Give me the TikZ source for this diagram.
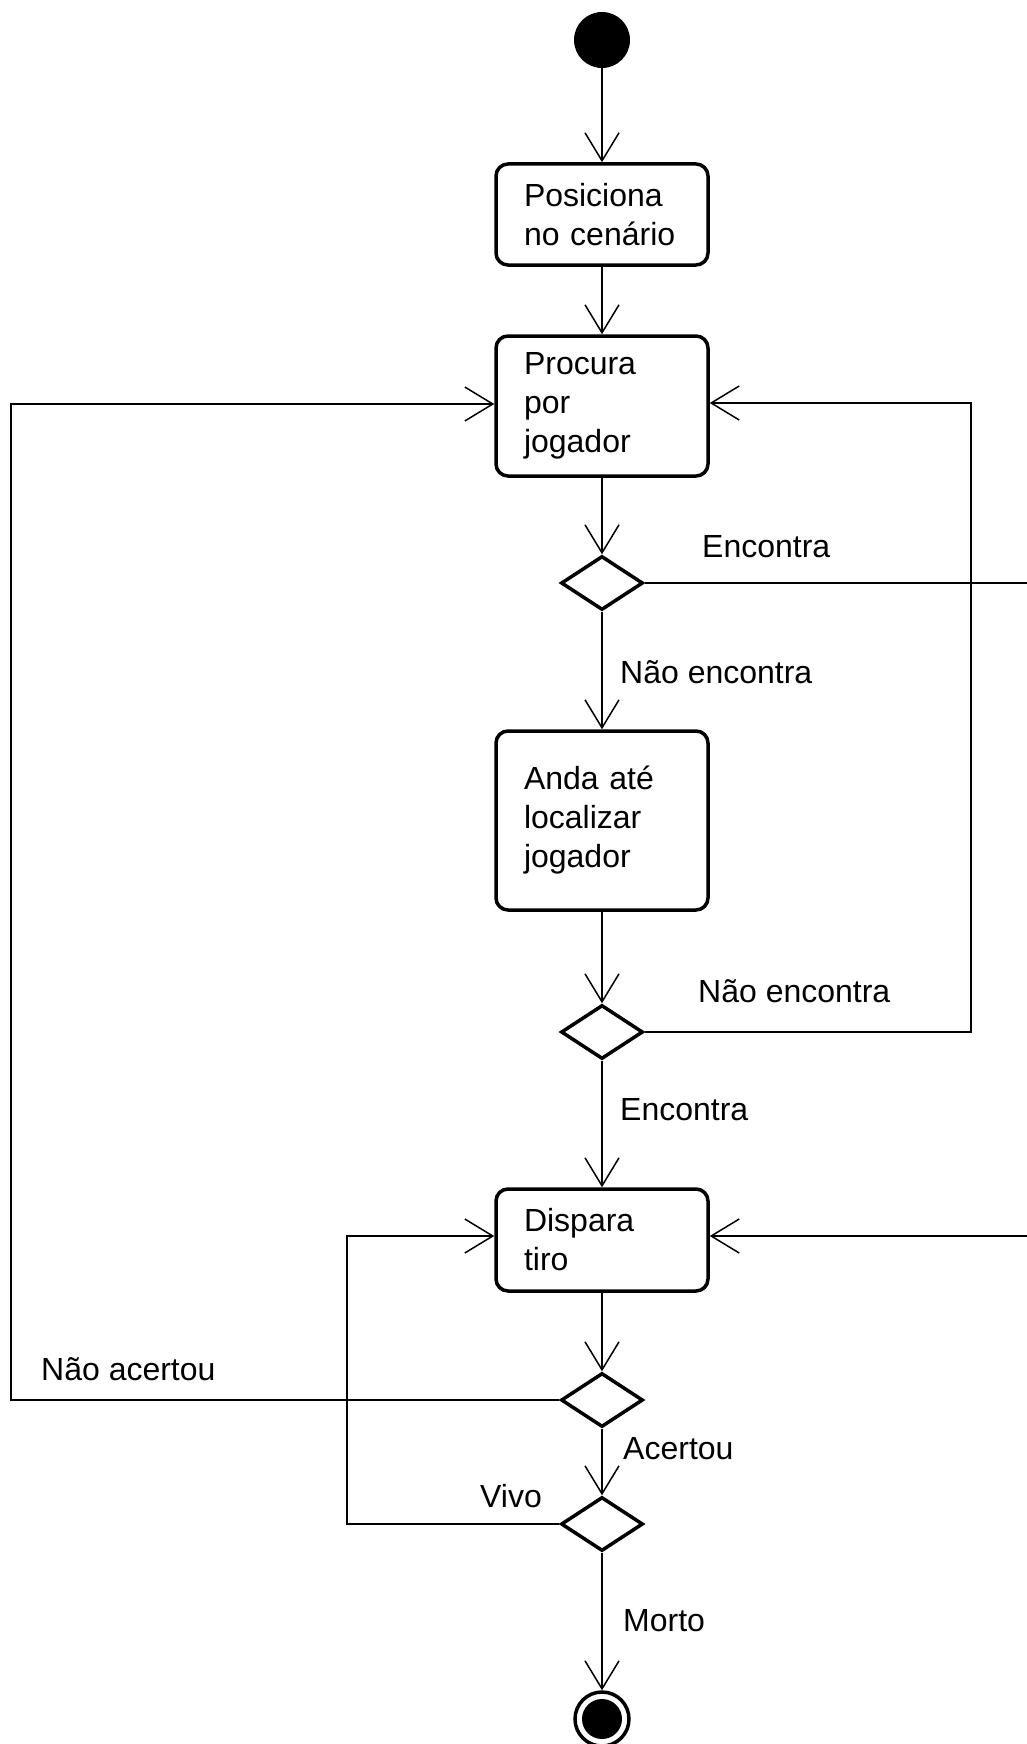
\documentclass[tikz,border=0pt]{standalone}
\usepackage{fontspec}
\setmainfont{Liberation Sans}
\usetikzlibrary{arrows.meta,shapes.geometric}
\begin{document}
\begin{tikzpicture}[x=1pt,y=-1pt,
  every node/.style={font=\fontsize{32}{39}\selectfont},
  act/.style={draw, line width=3.5pt, rounded corners=12pt, minimum width=212pt, text width=156pt, inner xsep=28pt, inner ysep=0pt, align=left},
  dec/.style={draw, diamond, line width=3.5pt, minimum width=82pt, minimum height=54pt, inner sep=0pt},
  flow/.style={line width=1.5pt, -{Straight Barb[length=28pt,width=34pt]}},
  plain/.style={line width=1.5pt},
  lbl/.style={anchor=base west, inner sep=0pt},
]
\fill[white] (0,0) rectangle (1027,1744);
\useasboundingbox (0,0) rectangle (1027,1744);

% nodes
\node[circle, fill=black, minimum size=56pt, inner sep=0pt] (start) at (602,40) {};
\node[act, minimum height=101pt] (box1) at (602,214.5) {Posiciona\\no cenário};
\node[act, minimum height=140pt] (box2) at (602,406) {Procura\\por\\jogador};
\node[dec] (d1) at (602,583) {};
\node[act, minimum height=179pt] (box3) at (602,820.5) {Anda até\\localizar\\jogador};
\node[dec] (d2) at (602,1032) {};
\node[act, minimum height=102pt] (box4) at (602,1240) {Dispara\\tiro};
\node[dec] (d3) at (602,1400) {};
\node[dec] (d4) at (602,1524) {};
\node[circle, draw, line width=3.5pt, minimum size=54pt, inner sep=0pt] (end) at (602,1719) {};
\node[circle, fill=black, minimum size=40pt, inner sep=0pt] (endin) at (end.center) {};

% coordinates for bends
\coordinate (edgeA) at (1027,583);
\coordinate (edgeB) at (1027,1236);
\coordinate (loopR) at (971,403);
\coordinate (loopL) at (11,404);
\coordinate (loopV) at (347,1236);

% connectors
\draw[flow] (start) -- (box1);
\draw[flow] (box1) -- (box2);
\draw[flow] (box2) -- (d1);
\draw[flow] (d1) -- (box3);
\draw[flow] (box3) -- (d2);
\draw[flow] (d2) -- (box4);
\draw[flow] (box4) -- (d3);
\draw[flow] (d3) -- (d4);
\draw[flow] (d4) -- (end);
\draw[plain] (d1.east) -- (edgeA);
\draw[flow] (edgeB) -- (edgeB -| box4.east);
\draw[flow] (d2.east) -| (loopR) -- (loopR -| box2.east);
\draw[flow] (d3.west) -| (loopL) -- (loopL -| box2.west);
\draw[flow] (d4.west) -| (loopV) -- (loopV -| box4.west);

% labels
\node[lbl] (l1) at (702,557) {Encontra};
\node[lbl] (l2) at (620,683) {Não encontra};
\node[lbl] (l3) at (698,1002) {Não encontra};
\node[lbl] (l4) at (620,1120) {Encontra};
\node[lbl] (l5) at (41,1380) {Não acertou};
\node[lbl] (l6) at (623,1459) {Acertou};
\node[lbl] (l7) at (480,1507) {Vivo};
\node[lbl] (l8) at (623,1631) {Morto};
\end{tikzpicture}
\end{document}
